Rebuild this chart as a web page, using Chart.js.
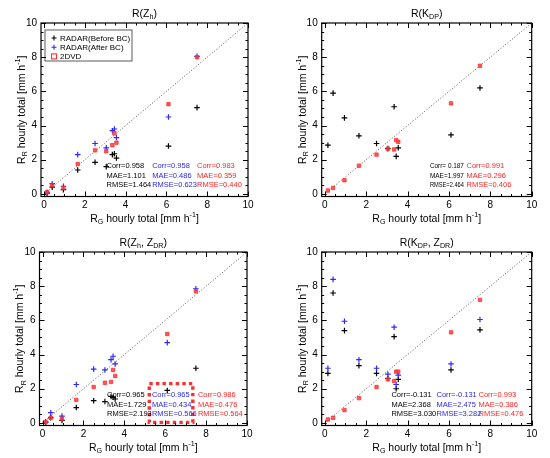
<!DOCTYPE html>
<html><head><meta charset="utf-8">
<script src="https://cdn.jsdelivr.net/npm/chart.js@4"></script>
<style>
body{margin:0;background:#fff;width:550px;height:458px;overflow:hidden;position:relative}
.p{position:absolute;width:275px;height:229px}
canvas{display:block}
</style></head><body>
<div class="p" style="left:0;top:0"><canvas id="c1" width="275" height="229"></canvas></div>
<div class="p" style="left:275px;top:0"><canvas id="c2" width="275" height="229"></canvas></div>
<div class="p" style="left:0;top:229px"><canvas id="c3" width="275" height="229"></canvas></div>
<div class="p" style="left:275px;top:229px"><canvas id="c4" width="275" height="229"></canvas></div>
<script>
// ---------------- DATA ----------------
const gaugeRain = [0.15, 0.4, 0.95, 1.65, 2.5, 3.05, 3.35, 3.45, 3.55, 6.1, 7.5];
const axisTicks = [0, 2, 4, 6, 8, 10];
const identityLine = [0, 10];

// R(Zh)
const zhBefore = [0.05, 0.4, 0.25, 1.4, 1.85, 1.6, 2.3, 2.35, 2.1, 2.8, 5.05];
const zhAfter  = [0.1, 0.6, 0.45, 2.3, 2.95, 2.7, 3.7, 3.8, 3.3, 4.5, 8.05];
const zh2dvd   = [0.1, 0.5, 0.35, 1.75, 2.55, 2.5, 2.85, 3.55, 3.0, 5.25, 8.0];
// R(Kdp)
const kdpBefore = [2.85, 5.9, 4.45, 3.4, 2.95, 2.65, 5.1, 2.2, 2.7, 3.45, 6.2];
const kdp2dvd   = [0.2, 0.35, 0.8, 1.65, 2.3, 2.65, 2.6, 3.15, 3.05, 5.3, 7.5];
// R(Zh, Zdr)
const zhzdrBefore = [0.05, 0.3, 0.15, 0.9, 1.3, 1.25, 1.55, 1.5, 1.4, 1.9, 3.2];
const zhzdrAfter  = [0.05, 0.6, 0.4, 2.25, 3.15, 3.1, 3.7, 3.9, 3.45, 4.7, 7.85];
const zhzdr2dvd   = [0.05, 0.3, 0.25, 1.35, 2.1, 2.35, 2.4, 3.1, 2.75, 5.2, 7.7];
// R(Kdp, Zdr)
const kdpzdrBefore = [2.9, 7.6, 5.4, 3.35, 2.9, 2.6, 5.05, 2.0, 2.55, 3.1, 5.45];
const kdpzdrAfter  = [3.2, 8.4, 5.95, 3.7, 3.2, 2.85, 5.6, 2.25, 2.8, 3.45, 6.05];
const kdpzdr2dvd   = [0.2, 0.3, 0.75, 1.45, 2.1, 2.55, 2.45, 3.0, 3.0, 5.3, 7.2];

// statistics text
const statsZhBefore = ["Corr=0.958", "MAE=1.101", "RMSE=1.464"];
const statsZhAfter  = ["Corr=0.958", "MAE=0.486", "RMSE=0.623"];
const statsZh2dvd   = ["Corr=0.983", "MAE=0.359", "RMSE=0.440"];
const statsKdpBefore = ["Corr= 0.187", "MAE=1.997", "RMSE=2.464"];
const statsKdp2dvd   = ["Corr=0.991", "MAE=0.296", "RMSE=0.406"];
const statsZhZdrBefore = ["Corr=0.965", "MAE=1.729", "RMSE=2.193"];
const statsZhZdrAfter  = ["Corr=0.965", "MAE=0.434", "RMSE=0.566"];
const statsZhZdr2dvd   = ["Corr=0.986", "MAE=0.476", "RMSE=0.564"];
const statsKdpZdrBefore = ["Corr=-0.131", "MAE=2.368", "RMSE=3.030"];
const statsKdpZdrAfter  = ["Corr=-0.131", "MAE=2.475", "RMSE=3.282"];
const statsKdpZdr2dvd   = ["Corr=0.993", "MAE=0.386", "RMSE=0.476"];

const legendLabels = ["RADAR(Before BC)", "RADAR(After BC)", "2DVD"];

// ---------------- STYLE ----------------
const FONT = '"Liberation Sans", Arial, Helvetica, sans-serif';
const BLACK = '#000000', BLUE = '#2a2aff', RED = '#ff3030';
const BLUE_T = '#2828e8', RED_T = '#ff2424';

function pts(vals) { return vals.map((v, i) => ({x: gaugeRain[i], y: v})); }

function drawRich(ctx, parts, x, y, size, align) {
  let w = 0;
  const m = parts.map(([t, mode]) => {
    const fs = mode ? size * 0.68 : size;
    ctx.font = fs + 'px ' + FONT;
    const tw = ctx.measureText(t).width;
    w += tw;
    return {t, mode, fs, tw};
  });
  let cx = align === 'center' ? x - w / 2 : x;
  ctx.textBaseline = 'middle';
  ctx.textAlign = 'left';
  m.forEach(p => {
    ctx.font = p.fs + 'px ' + FONT;
    const dy = p.mode === 1 ? size * 0.32 : (p.mode === 2 ? -size * 0.38 : 0);
    ctx.fillText(p.t, cx, y + dy);
    cx += p.tw;
  });
}

function makePlugin(cfg) {
  return {
    id: 'idl',
    afterDatasetsDraw(chart) {
      const {ctx, scales: {x, y}} = chart;
      ctx.save();
      if (cfg.box) {
        ctx.strokeStyle = RED;
        ctx.lineWidth = 3.4;
        ctx.setLineDash([3.4, 3.2]);
        const l = x.getPixelForValue(cfg.box[0]), r = x.getPixelForValue(cfg.box[1]);
        const b = y.getPixelForValue(cfg.box[2]), t = y.getPixelForValue(cfg.box[3]);
        ctx.strokeRect(l, t, r - l, b - t);
        ctx.setLineDash([]);
      }
      ctx.font = '7.5px ' + FONT;
      ctx.textAlign = 'left';
      ctx.textBaseline = 'middle';
      cfg.stats.forEach(col => {
        ctx.fillStyle = col.color;
        col.lines.forEach((t, i) => {
          const px = x.getPixelForValue(col.x), py = y.getPixelForValue(cfg.rows[i]);
          if (col.maxW) ctx.fillText(t, px, py, col.maxW); else ctx.fillText(t, px, py);
        });
      });
      if (cfg.legend) {
        const L = cfg.legend;
        ctx.strokeStyle = '#333';
        ctx.lineWidth = 0.8;
        ctx.strokeRect(L.x, L.y, L.w, L.h);
        const cols = [BLACK, BLUE, RED];
        legendLabels.forEach((lab, i) => {
          const yy = L.y + 8 + i * 9.2;
          const mx = L.x + 9;
          ctx.strokeStyle = cols[i];
          ctx.lineWidth = 1.1;
          if (i < 2) {
            ctx.beginPath();
            ctx.moveTo(mx - 2.5, yy); ctx.lineTo(mx + 2.5, yy);
            ctx.moveTo(mx, yy - 2.5); ctx.lineTo(mx, yy + 2.5);
            ctx.stroke();
          } else {
            ctx.strokeRect(mx - 2.5, yy - 2.5, 5, 5);
          }
          ctx.fillStyle = '#000';
          ctx.font = '8px ' + FONT;
          ctx.textAlign = 'left';
          ctx.textBaseline = 'middle';
          ctx.fillText(lab, mx + 6, yy + 0.5);
        });
      }
      ctx.restore();
    },
    afterDraw(chart) {
      const {ctx, chartArea: a, scales: {x, y}} = chart;
      ctx.save();
      ctx.strokeStyle = '#000';
      ctx.lineWidth = 1.2;
      ctx.strokeRect(a.left, a.top, a.right - a.left, a.bottom - a.top);
      ctx.lineWidth = 1;
      ctx.beginPath();
      for (let k = 0; k <= 20; k++) {
        const v = k * 0.5;
        const len = (k % 4 === 0) ? 5 : 2.5;
        const px = Math.round(x.getPixelForValue(v)) + 0.5;
        ctx.moveTo(px, a.bottom); ctx.lineTo(px, a.bottom - len);
        ctx.moveTo(px, a.top); ctx.lineTo(px, a.top + len);
        const py = Math.round(y.getPixelForValue(v)) + 0.5;
        ctx.moveTo(a.left, py); ctx.lineTo(a.left + len, py);
        ctx.moveTo(a.right, py); ctx.lineTo(a.right - len, py);
      }
      ctx.stroke();
      ctx.fillStyle = '#000';
      const cx = (a.left + a.right) / 2;
      drawRich(ctx, cfg.title, cx, 14, 10.5, 'center');
      drawRich(ctx, [['R', 0], ['G', 1], [' hourly total [mm h', 0], ['-1', 2], [']', 0]], cx, 219, 10.5, 'center');
      ctx.save();
      ctx.translate(a.left - 19, (a.top + a.bottom) / 2);
      ctx.rotate(-Math.PI / 2);
      drawRich(ctx, [['R', 0], ['R', 1], [' hourly total [mm h', 0], ['-1', 2], [']', 0]], 0, 0, 10.5, 'center');
      ctx.restore();
      ctx.restore();
    }
  };
}

function makeChart(id, cfg) {
  const ds = [];
  ds.push({
    label: 'line', data: identityLine.map(v => ({x: v, y: v})), showLine: true,
    borderColor: '#555', borderWidth: 1, borderDash: [1, 2], pointRadius: 0, order: 5
  });
  if (cfg.before) ds.push({label: legendLabels[0], data: pts(cfg.before), pointStyle: 'cross',
    pointRadius: 2.8, borderColor: BLACK, backgroundColor: BLACK, pointBorderWidth: 1.2, order: 3});
  if (cfg.after) ds.push({label: legendLabels[1], data: pts(cfg.after), pointStyle: 'cross',
    pointRadius: 2.8, borderColor: BLUE, backgroundColor: BLUE, pointBorderWidth: 1.2, order: 2});
  if (cfg.dvd) ds.push({label: legendLabels[2], data: pts(cfg.dvd), pointStyle: 'rect',
    pointRadius: 2.4, borderColor: RED, backgroundColor: 'rgba(255,60,60,0.85)', pointBorderWidth: 0.8, order: 1});

  const tickFont = {family: FONT, size: 10};
  new Chart(document.getElementById(id), {
    type: 'scatter',
    data: {datasets: ds},
    options: {
      responsive: false, animation: false, events: [],
      layout: {padding: {left: 0, right: 275 - cfg.area[1], top: cfg.area[2], bottom: 0}},
      plugins: {legend: {display: false}, tooltip: {enabled: false}, title: {display: false}},
      scales: {
        x: {
          type: 'linear', min: -0.15, max: 10,
          afterBuildTicks: s => { s.ticks = axisTicks.map(v => ({value: v})); },
          ticks: {font: tickFont, color: '#000', padding: 3, maxRotation: 0, autoSkip: false},
          grid: {display: false, drawTicks: false}, border: {display: false},
          afterFit: s => { s.height = 229 - cfg.area[3]; }
        },
        y: {
          type: 'linear', min: -0.15, max: 10,
          afterBuildTicks: s => { s.ticks = axisTicks.map(v => ({value: v})); },
          ticks: {font: tickFont, color: '#000', padding: 4, autoSkip: false},
          grid: {display: false, drawTicks: false}, border: {display: false},
          afterFit: s => { s.width = cfg.area[0]; }
        }
      }
    },
    plugins: [makePlugin(cfg)]
  });
}

const statRows = [1.63, 1.08, 0.53];

makeChart('c1', {
  area: [41, 248, 23, 196.5],
  title: [['R(Z', 0], ['h', 1], [')', 0]],
  before: zhBefore, after: zhAfter, dvd: zh2dvd,
  rows: statRows,
  stats: [
    {x: 3.06, color: BLACK, lines: statsZhBefore},
    {x: 5.3, color: BLUE_T, lines: statsZhAfter},
    {x: 7.5, color: RED_T, lines: statsZh2dvd}
  ],
  legend: {x: 45, y: 30, w: 87, h: 31}
});
makeChart('c2', {
  area: [46.7, 256.7, 23, 196.5],
  title: [['R(K', 0], ['DP', 1], [')', 0]],
  before: kdpBefore, dvd: kdp2dvd,
  rows: statRows,
  stats: [
    {x: 5.08, color: BLACK, lines: statsKdpBefore, maxW: 34},
    {x: 6.85, color: RED_T, lines: statsKdp2dvd}
  ]
});
makeChart('c3', {
  area: [39.5, 247, 23, 196.5],
  title: [['R(Z', 0], ['h', 1], [', Z', 0], ['DR', 1], [')', 0]],
  before: zhzdrBefore, after: zhzdrAfter, dvd: zhzdr2dvd,
  rows: statRows,
  stats: [
    {x: 3.15, color: BLACK, lines: statsZhZdrBefore},
    {x: 5.35, color: BLUE_T, lines: statsZhZdrAfter},
    {x: 7.6, color: RED_T, lines: statsZhZdr2dvd}
  ],
  box: [5.22, 7.35, 0.03, 2.3]
});
makeChart('c4', {
  area: [46.7, 256.7, 23, 196.5],
  title: [['R(K', 0], ['DP', 1], [', Z', 0], ['DR', 1], [')', 0]],
  before: kdpzdrBefore, after: kdpzdrAfter, dvd: kdpzdr2dvd,
  rows: statRows,
  stats: [
    {x: 3.22, color: BLACK, lines: statsKdpZdrBefore},
    {x: 5.4, color: BLUE_T, lines: statsKdpZdrAfter},
    {x: 7.43, color: RED_T, lines: statsKdpZdr2dvd}
  ]
});
</script>
</body></html>
